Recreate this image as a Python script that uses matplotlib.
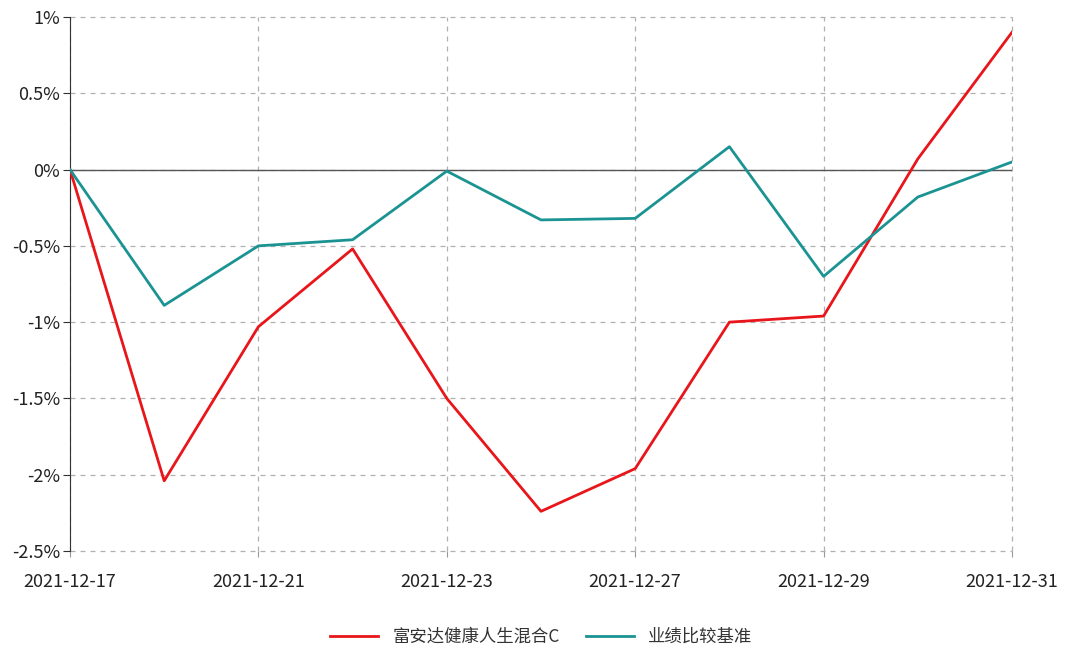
import matplotlib.pyplot as plt
from matplotlib.ticker import FuncFormatter

plt.rcParams['font.family'] = ['Noto Sans CJK SC', 'DejaVu Sans']

# trading days
dates = ['2021-12-17', '2021-12-20', '2021-12-21', '2021-12-22', '2021-12-23', '2021-12-24',
         '2021-12-27', '2021-12-28', '2021-12-29', '2021-12-30', '2021-12-31']
fund = [0.0, -2.04, -1.03, -0.52, -1.50, -2.24, -1.96, -1.00, -0.96, 0.07, 0.90]
bench = [0.0, -0.89, -0.50, -0.46, -0.01, -0.33, -0.32, 0.15, -0.70, -0.18, 0.05]
fund_name = '富安达健康人生混合C'
bench_name = '业绩比较基准'

fig = plt.figure(figsize=(10.68, 6.48), dpi=100)
ax = fig.add_axes([70/1068, 1 - 551/648, (1012 - 70)/1068, (551 - 17)/648])

x = list(range(len(dates)))
ax.plot(x, fund, color='#e8161b', lw=2.0, label=fund_name, zorder=3)
ax.plot(x, bench, color='#1c9393', lw=2.0, label=bench_name, zorder=3)

ax.set_xlim(0, len(dates) - 1)
ax.set_ylim(-2.5, 1.0)
ax.set_yticks([1, 0.5, 0, -0.5, -1, -1.5, -2, -2.5])
ax.yaxis.set_major_formatter(FuncFormatter(lambda v, p: f'{v:g}%'))
ax.set_xticks(x[::2])
ax.set_xticklabels(dates[::2])

ax.grid(True, ls=(0, (4, 4)), color='#b0b0b0', lw=0.9)
# keep the edge grid lines fully visible
for gl in ax.get_xgridlines() + ax.get_ygridlines():
    gl.set_clip_on(False)
ax.axhline(0, color='#555555', lw=1.0, zorder=2)
for s in ['top', 'right', 'bottom']:
    ax.spines[s].set_visible(False)
ax.spines['left'].set_color('#333333')
ax.tick_params(axis='y', length=5, color='#333333', labelsize=13, colors='#222222', pad=2)
ax.tick_params(axis='x', length=4, color='#999999', labelsize=13, colors='#222222', pad=12)

ax.legend(loc='upper center', bbox_to_anchor=(0.5, -0.115), ncol=2, frameon=False,
          fontsize=12.5, handlelength=2.8, columnspacing=1.5, labelcolor='#333333')

fig.savefig('out.png', dpi=100)
